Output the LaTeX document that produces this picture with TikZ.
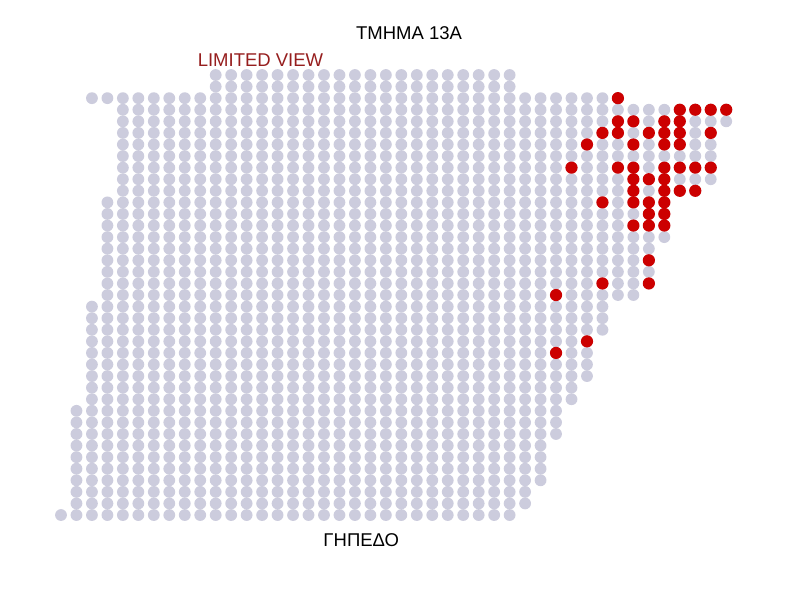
\documentclass[tikz,border=0pt]{standalone}
\usepackage{fontspec}
\setmainfont{Liberation Sans}
\definecolor{seatgrey}{RGB}{204,204,221}
\definecolor{seatred}{RGB}{204,0,0}
\definecolor{limitred}{RGB}{150,30,30}
\tikzset{
  seat/.style={fill=seatgrey},
  taken/.style={fill=seatred},
  lbl/.style={anchor=base, inner sep=0pt, font=\fontsize{18.5}{20}\selectfont},
}
\begin{document}
\begin{tikzpicture}[x=1pt,y=-1pt]
\useasboundingbox[fill=white] (0,0) rectangle (788,600);
% grey seats: row / first column / last column
\foreach \r/\a/\b in {0/10/29,1/10/29,2/2/36,3/4/43,4/4/43,5/4/42,6/4/42,7/4/42,8/4/42,9/4/42,10/4/41,
  11/3/39,12/3/39,13/3/39,14/3/39,15/3/38,16/3/38,17/3/38,18/3/38,19/3/37,
  20/2/35,21/2/35,22/2/35,23/2/34,24/2/34,25/2/34,26/2/34,27/2/33,28/2/33,
  29/1/32,30/1/32,31/1/32,32/1/31,33/1/31,34/1/31,35/1/31,36/1/30,37/1/30,38/0/29}{
  \foreach \c in {\a,...,\b}{
    \fill[seat] ({61+15.47*\c},{75+11.58*\r}) circle (5.9pt);
  }
}
% red seats: column / row
\foreach \c/\r in {36/2,40/3,41/3,42/3,43/3,36/4,37/4,39/4,40/4,
  35/5,36/5,38/5,39/5,40/5,42/5,34/6,37/6,39/6,40/6,
  33/8,36/8,37/8,39/8,40/8,41/8,42/8,37/9,38/9,39/9,
  37/10,39/10,40/10,41/10,35/11,37/11,38/11,39/11,38/12,39/12,
  37/13,38/13,39/13,38/16,35/18,38/18,32/19,34/23,32/24}{
  \fill[taken] ({61+15.47*\c},{75+11.58*\r}) circle (6.1pt);
}
\node[lbl] (section) at (409,39.3) {ΤΜΗΜΑ 13Α};
\node[lbl, text=limitred] (limited) at (260.5,66.7) {LIMITED VIEW};
\node[lbl] (pitch) at (361.3,546.7) {ΓΗΠΕΔΟ};
\end{tikzpicture}
\end{document}
